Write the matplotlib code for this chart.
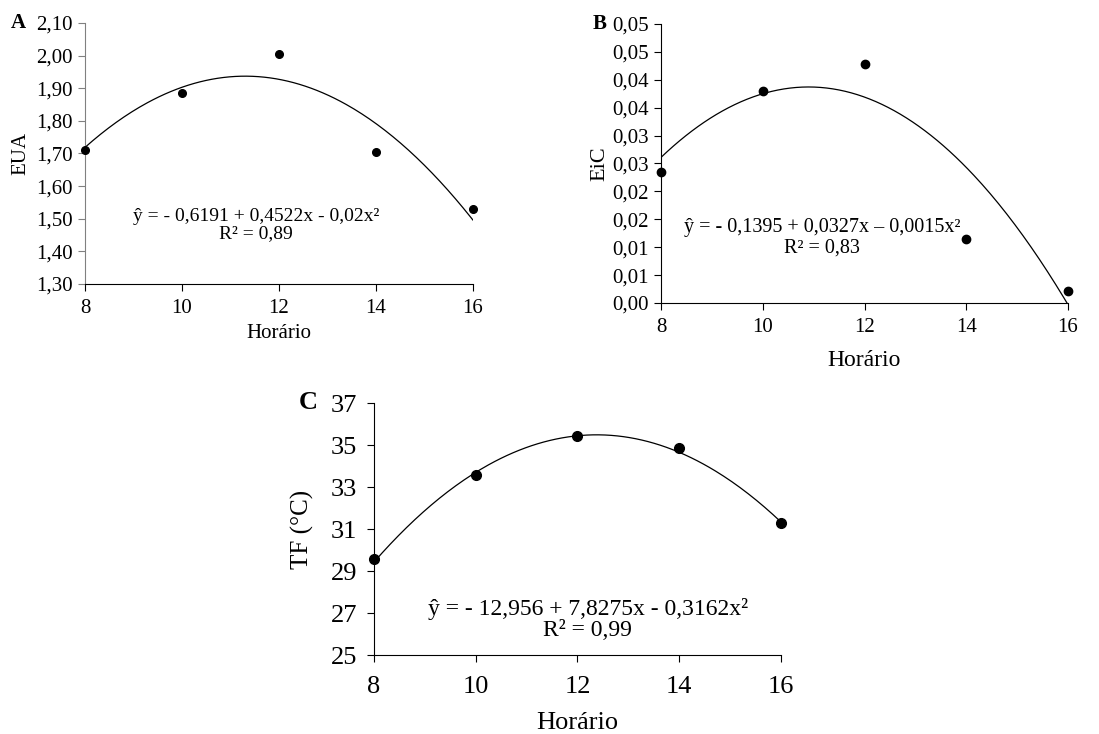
import numpy as np
import matplotlib
matplotlib.use("Agg")
import matplotlib.pyplot as plt

plt.rcParams['font.family'] = ['Liberation Serif', 'DejaVu Serif']

# data
horario = [8, 10, 12, 14, 16]
eua = [1.71, 1.885, 2.005, 1.705, 1.53]
eic = [0.0235, 0.038, 0.0429, 0.0115, 0.0021]
tf = [29.56, 33.55, 35.44, 34.85, 31.28]

# quadratic trend lines as printed on each panel (c0, c1, c2)
coef_eua = [-0.6191, 0.4522, -0.02]
coef_eic = [-0.1395, 0.0327, -0.0015]
coef_tf = [-12.956, 7.8275, -0.3162]

eq_eua = "ŷ = - 0,6191 + 0,4522x - 0,02x²\nR² = 0,89"
eq_eic = "ŷ = - 0,1395 + 0,0327x – 0,0015x²\nR² = 0,83"
eq_tf = "ŷ = - 12,956 + 7,8275x - 0,3162x²\nR² = 0,99"

yt_eua = [1.30, 1.40, 1.50, 1.60, 1.70, 1.80, 1.90, 2.00, 2.10]
yt_eic = [0.0, 0.005, 0.010, 0.015, 0.020, 0.025, 0.030, 0.035, 0.040, 0.045, 0.050]
yl_eic = ["0,00", "0,01", "0,01", "0,02", "0,02", "0,03", "0,03", "0,04", "0,04", "0,05", "0,05"]
yt_tf = [25, 27, 29, 31, 33, 35, 37]


def panel(rect, x, y, coef, ylim, yticks, ylabels, ylab, letter, eq, eqpos,
          fs, eqfs, ylfs, xlfs, ms, ypad, xpad, xtpad, ytpad, letter_pos,
          spine_color='black'):
    ax = fig.add_axes(rect)
    xs = np.linspace(8, 16, 200)
    ys = coef[0] + coef[1] * xs + coef[2] * xs ** 2
    ax.plot(xs, ys, color='black', lw=0.9)
    ax.plot(x, y, 'o', color='black', ms=ms, clip_on=False, zorder=3)
    ax.set_xlim(8, 16)
    ax.set_ylim(*ylim)
    ax.set_xticks(horario)
    ax.set_yticks(yticks)
    ax.set_yticklabels(ylabels)
    for s in ['top', 'right']:
        ax.spines[s].set_visible(False)
    ax.spines['left'].set_color(spine_color)
    ax.tick_params(direction='out', length=5, width=0.8, labelsize=fs)
    ax.tick_params(axis='x', pad=xtpad)
    ax.tick_params(axis='y', colors=spine_color, labelcolor='black', pad=ytpad)
    ax.set_ylabel(ylab, fontsize=ylfs, labelpad=ypad)
    ax.set_xlabel("Horário", fontsize=xlfs, labelpad=xpad)
    ax.text(eqpos[0], eqpos[1], eq, fontsize=eqfs, ha='center', va='center',
            multialignment='center', linespacing=1.05)
    fig.text(letter_pos[0], letter_pos[1], letter, fontsize=fs, fontweight='bold',
             ha='left', va='center')
    return ax


fig = plt.figure(figsize=(10.99, 7.34), dpi=100)

panel([0.0773, 0.6131, 0.353, 0.3556], horario, eua, coef_eua, (1.30, 2.10),
      yt_eua, [f"{v:.2f}".replace('.', ',') for v in yt_eua], "EUA", "A",
      eq_eua, (11.53, 1.48), 15, 14, 15, 15, 5.5, 4, 4, 6, 4, (0.010, 0.968),
      spine_color='#808080')

panel([0.6015, 0.5872, 0.3703, 0.3801], horario, eic, coef_eic, (0.0, 0.05),
      yt_eic, yl_eic, "EiC", "B",
      eq_eic, (11.16, 0.0117), 15, 14.5, 16, 17, 6, 2, 9, 6, 4, (0.539, 0.967))

panel([0.3403, 0.1076, 0.3703, 0.3433], horario, tf, coef_tf, (25, 37),
      yt_tf, [str(v) for v in yt_tf], "TF (°C)", "C",
      eq_tf, (12.2, 26.69), 19, 17, 18, 19, 7, 12, 10, 10, 7, (0.272, 0.451))

fig.savefig("out.png", dpi=100)
